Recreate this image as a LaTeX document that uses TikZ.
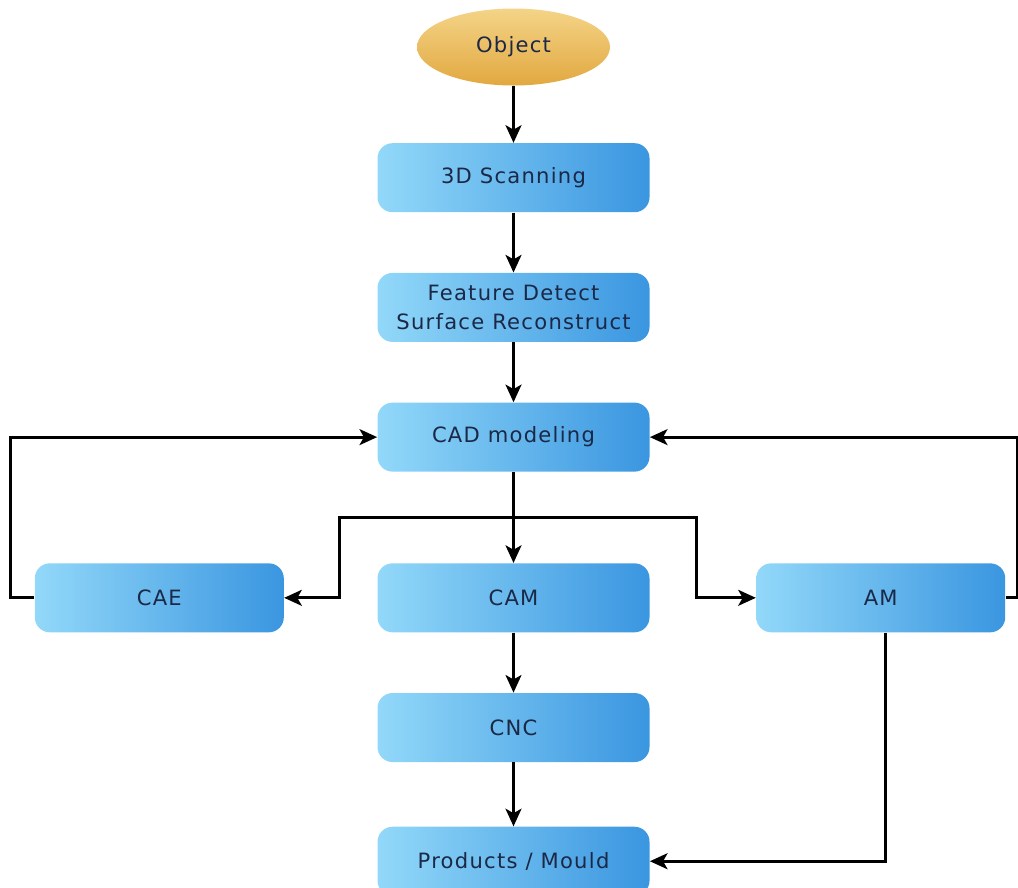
\documentclass[tikz,border=0pt]{standalone}
\usepackage{fontspec}
\usepackage{tikz}
\usetikzlibrary{shapes.geometric, arrows.meta, positioning, calc}
\newfontfamily\flowfont{DejaVu Sans}[LetterSpace=6]
\definecolor{BoxLight}{HTML}{92D8F9}
\definecolor{BoxDark}{HTML}{3A96E0}
\definecolor{GoldTop}{HTML}{F4D488}
\definecolor{GoldBottom}{HTML}{E2A840}
\definecolor{TextNavy}{HTML}{1B2846}

\begin{document}
\begin{tikzpicture}[node distance=1.2cm, >={Stealth[length=10pt, width=9pt, inset=2.5pt]},
  procbox/.style={rectangle, rounded corners=0.3cm, minimum width=5.44cm, minimum height=1.38cm,
    inner sep=0pt, left color=BoxLight, right color=BoxDark, text=TextNavy, align=center,
    font=\flowfont\fontsize{12}{16}\selectfont},
  sidebox/.style={procbox, minimum width=4.98cm},
  startnode/.style={ellipse, minimum width=3.86cm, minimum height=1.54cm, inner sep=0pt,
    top color=GoldTop, bottom color=GoldBottom, text=TextNavy,
    font=\flowfont\fontsize{12}{16}\selectfont},
  flow/.style={->, line width=1.8pt}]
  \useasboundingbox (0,0) rectangle (20.36,-17.74);

  \node[startnode] (object) at (10.27,-0.94) {Object};
  \node[procbox, below=1.14cm of object] (scan) {3D Scanning};
  \node[procbox, below=of scan] (feature) {Feature Detect\\Surface Reconstruct};
  \node[procbox, below=of feature] (cad) {CAD modeling};
  \node[procbox, below=1.82cm of cad] (cam) {CAM};
  \node[sidebox, left=1.86cm of cam] (cae) {CAE};
  \node[sidebox, right=2.12cm of cam] (am) {AM};
  \node[procbox, below=of cam] (cnc) {CNC};
  \node[procbox, below=1.28cm of cnc] (prod) {Products / Mould};

  % main column
  \draw[flow] (object) -- (scan);
  \draw[flow] (scan) -- (feature);
  \draw[flow] (feature) -- (cad);
  \draw[flow] (cad) -- (cam);
  \draw[flow] (cam) -- (cnc);
  \draw[flow] (cnc) -- (prod);

  % branch to CAE and AM
  \coordinate (split) at ($(cad.south)!0.5!(cam.north)$);
  \coordinate (leftdrop) at ([xshift=-0.76cm]cam.west);
  \coordinate (rightdrop) at ([xshift=0.94cm]cam.east);
  \draw[flow] (split) -| (leftdrop) -- (cae.east);
  \draw[flow] (split) -| (rightdrop) -- (am.west);

  % feedback loops
  \draw[flow] (cae.west) -- ++(-0.48,0) |- (cad.west);
  \draw[flow] (am.east) -- ++(0.24,0) |- (cad.east);
  \draw[flow] ([xshift=0.09cm]am.south) |- (prod.east);
\end{tikzpicture}
\end{document}
